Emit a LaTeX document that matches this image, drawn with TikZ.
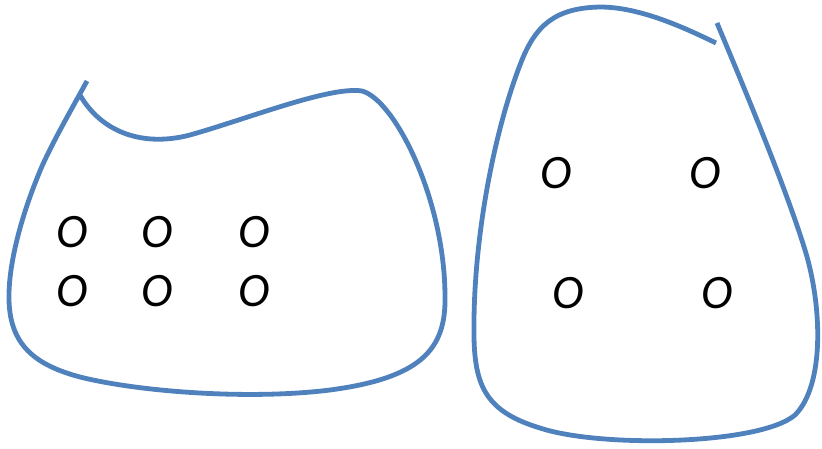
\documentclass[tikz,border=0pt]{standalone}
\usepackage{fontspec}
\newfontfamily\calfont{Carlito}
\definecolor{blobblue}{RGB}{79,129,189}

\begin{document}
\begin{tikzpicture}[
  x=1pt, y=-1pt,
  blob/.style={draw=blobblue, line width=4.8pt, line cap=butt, line join=round},
  ball/.style={font=\calfont\itshape\fontsize{48}{48}\selectfont, inner sep=0pt},
]
  \useasboundingbox (0,0) rectangle (822,449);

  % ---------------- left region
  \draw[blob] (87,81) .. controls (70,112) and (55,138) .. (43,164)
    .. controls (25,205) and (8,260) .. (9,300)
    .. controls (10,345) and (35,365) .. (80,377)
    .. controls (140,392) and (250,400) .. (330,390)
    .. controls (420,378) and (446,350) .. (445,297)
    .. controls (445,200) and (395,100) .. (362,91)
    .. controls (330,86) and (250,118) .. (190,135)
    .. controls (140,148) and (100,130) .. (80,95);
  \foreach \n/\x/\y in {a/72/232, b/157/232, c/254/232, d/72/291, e/157/291, f/254/291}
    \node[ball] (l\n) at (\x,\y) {O};

  % ---------------- right region
  \draw[blob] (717,23) .. controls (740,78) and (785,185) .. (805,250)
    .. controls (822,305) and (825,385) .. (795,415)
    .. controls (760,445) and (600,448) .. (540,428)
    .. controls (480,410) and (473,380) .. (474,320)
    .. controls (475,230) and (495,130) .. (520,65)
    .. controls (535,25) and (555,8) .. (600,7)
    .. controls (640,7) and (685,28) .. (716,43);
  \foreach \n/\x/\y in {a/556/173, b/705/173, c/568/293, d/717/293}
    \node[ball] (r\n) at (\x,\y) {O};
\end{tikzpicture}
\end{document}
